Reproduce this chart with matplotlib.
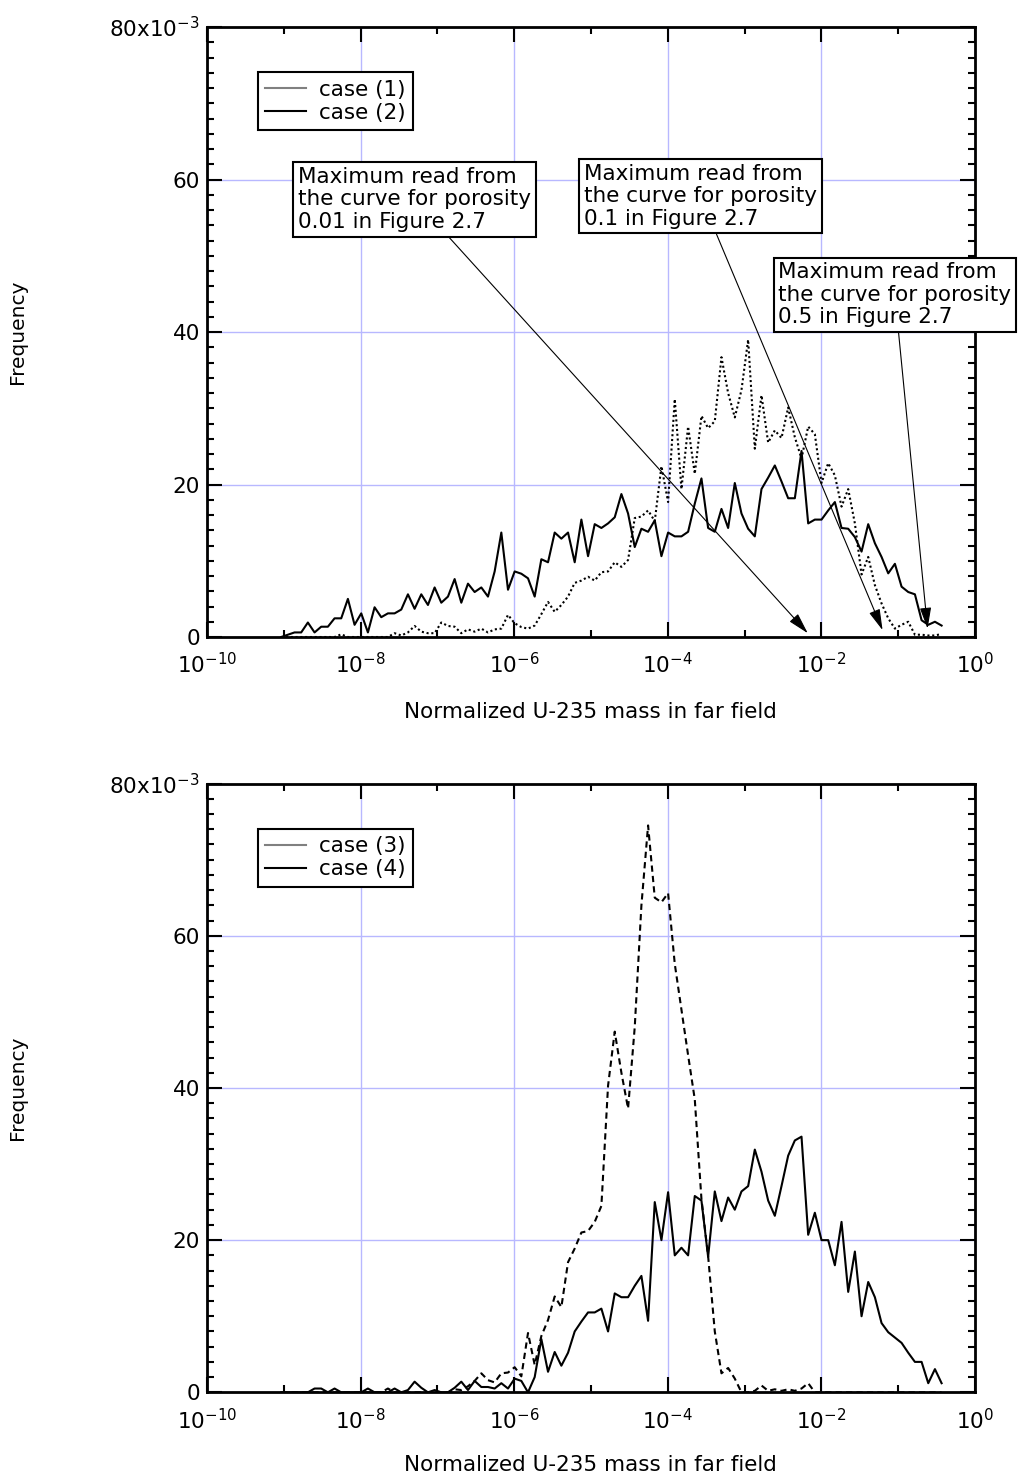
import numpy as np
import matplotlib as mpl
mpl.use('Agg')
import matplotlib.pyplot as plt
from matplotlib.lines import Line2D
from matplotlib.ticker import FixedLocator, NullFormatter

# histogram bins are spaced 0.2 apart in ln(mass), first bin at ln = -20.8
LN_START = -20.8
LN_STEP = 0.2

# frequencies, in units of 1e-3
case1 = [0, 0, 0, 0, 0, 0, 0, 0, 0, 0.35,
         0, 0, 0, 0, 0, 0, 0, 0.5, 0.2, 0.6,
         1.45, 0.7, 0.5, 0.5, 1.9, 1.45, 1.35, 0.5, 1.0, 0.7,
         1.1, 0.6, 1.0, 1.1, 2.9, 1.8, 1.3, 1.1, 1.5, 3.0,
         4.6, 3.3, 4.2, 5.3, 7.1, 7.4, 7.9, 7.4, 8.5, 8.6,
         9.8, 9.2, 10.1, 15.6, 15.8, 16.6, 15.2, 22.4, 17.7, 31.2,
         19.4, 27.6, 21.4, 29.0, 27.4, 28.3, 36.7, 32.0, 28.8, 32.4,
         39.0, 24.7, 31.7, 25.5, 27.1, 26.1, 30.1, 26.2, 23.4, 27.6,
         26.6, 20.2, 22.8, 21.2, 17.1, 19.4, 14.9, 8.2, 10.5, 6.8,
         4.4, 2.45, 1.1, 1.6, 2.0, 0.3, 0.3, 0.2, 0.2, 0.4]

case2 = [0, 0.3, 0.6, 0.6, 1.9, 0.6, 1.35, 1.35, 2.45, 2.45,
         5.0, 1.6, 3.1, 0.6, 3.9, 2.6, 3.1, 3.1, 3.6, 5.6,
         3.7, 5.6, 4.2, 6.5, 4.5, 5.3, 7.6, 4.5, 7.0, 5.9,
         6.5, 5.3, 8.6, 13.7, 6.2, 8.6, 8.3, 7.7, 5.3, 10.2,
         9.8, 13.7, 12.9, 13.7, 9.8, 15.4, 10.6, 14.8, 14.3, 14.9,
         15.7, 18.75, 16.2, 11.8, 14.2, 13.8, 15.3, 10.6, 13.7, 13.2,
         13.2, 13.8, 17.5, 20.8, 14.3, 13.8, 16.8, 14.3, 20.2, 16.2,
         14.2, 13.2, 19.4, 20.9, 22.5, 20.4, 18.2, 18.2, 24.4, 14.9,
         15.4, 15.4, 16.6, 17.7, 14.3, 14.2, 13.1, 11.2, 14.8, 12.3,
         10.5, 8.35, 9.6, 6.6, 5.9, 5.6, 2.2, 1.6, 2.0, 1.5]

case3 = [0, 0, 0, 0, 0, 0, 0, 0, 0, 0,
         0, 0, 0, 0, 0, 0, 0.5, 0, 0, 0,
         0, 0, 0, 0, 0, 0, 0.4, 0.3, 0.8, 1.5,
         2.5, 1.6, 1.3, 2.5, 2.6, 3.3, 2.1, 7.8, 3.6, 7.4,
         9.5, 12.6, 11.2, 17.1, 18.9, 21.0, 21.2, 22.4, 24.5, 40.3,
         47.4, 42.0, 37.3, 48.0, 64.0, 74.5, 65.0, 64.4, 65.6, 56.3,
         50.3, 44.3, 38.5, 25.4, 17.9, 8.0, 2.5, 3.2, 1.8, 0,
         0, 0.2, 0.9, 0.2, 0.4, 0.2, 0.4, 0.2, 0.5, 1.2,
         0, 0, 0, 0, 0, 0, 0, 0, 0, 0,
         0, 0, 0, 0, 0, 0, 0, 0, 0, 0]

case4 = [0, 0, 0, 0, 0, 0.5, 0.5, 0, 0.5, 0,
         0, 0, 0, 0.5, 0, 0, 0, 0.5, 0, 0.3,
         1.4, 0.6, 0, 0.3, 0, 0, 0.6, 1.4, 0.3, 1.5,
         0.7, 0.7, 0.5, 1.2, 0.5, 1.8, 1.5, 0, 2.0, 7.0,
         2.7, 5.3, 3.5, 5.2, 8.0, 9.3, 10.5, 10.5, 11.0, 8.0,
         13.0, 12.5, 12.5, 14.0, 15.3, 9.4, 25.0, 20.0, 26.3, 18.0,
         19.0, 18.0, 25.8, 25.2, 17.8, 26.4, 22.5, 25.6, 24.0, 26.4,
         27.1, 31.9, 29.0, 25.2, 23.2, 27.1, 31.1, 33.1, 33.6, 20.7,
         23.6, 20.0, 20.0, 16.7, 22.4, 13.2, 18.5, 10.0, 14.5, 12.5,
         9.1, 7.9, 7.2, 6.5, 5.2, 4.0, 4.0, 1.2, 3.05, 1.2]

major_exp = [-10, -8, -6, -4, -2, 0]
minor_exp = [-9, -7, -5, -3, -1]
y_major = [0, 20, 40, 60, 80]
y_labels = ['0', '20', '40', '60', r'$\mathregular{80x10^{-3}}$']

note_text = "Maximum read from\nthe curve for porosity\n{} in Figure 2.7"
porosities = ['0.01', '0.1', '0.5']

plt.rcParams['mathtext.default'] = 'regular'
plt.rcParams['font.family'] = 'DejaVu Sans'


def bins(n):
    return np.exp(LN_START + LN_STEP * np.arange(n))


def setup(ax):
    ax.set_xscale('log')
    ax.set_xlim(1e-10, 1)
    ax.set_ylim(0, 80)
    ax.set_xticks([10.0 ** e for e in major_exp],
                  [r'$\mathregular{10^{%d}}$' % e for e in major_exp])
    ax.xaxis.set_minor_locator(FixedLocator([10.0 ** e for e in minor_exp]))
    ax.xaxis.set_minor_formatter(NullFormatter())
    ax.set_yticks(y_major, y_labels)
    ax.yaxis.set_minor_locator(FixedLocator(list(range(0, 81, 2))))
    ax.tick_params(which='both', direction='in', top=True, right=True,
                   width=1.5, color='black')
    ax.tick_params(which='major', length=11, labelsize=15.5)
    ax.tick_params(axis='x', which='major', pad=11)
    ax.tick_params(axis='y', which='major', pad=5)
    ax.tick_params(which='minor', length=5)
    ax.grid(True, which='major', color='#b8b8ff', lw=1)
    ax.set_axisbelow(True)
    for sp in ax.spines.values():
        sp.set_linewidth(2)


def add_legend(ax, labels):
    handles = [Line2D([], [], color='#808080', lw=1.5),
               Line2D([], [], color='black', lw=1.5)]
    leg = ax.legend(handles, labels, loc='upper left',
                    bbox_to_anchor=(0.066, 0.926), fancybox=False,
                    edgecolor='black', framealpha=1, fontsize=15.5,
                    handlelength=1.9, handletextpad=0.6, borderpad=0.35,
                    labelspacing=0.15, borderaxespad=0)
    leg.get_frame().set_linewidth(1.5)


fig = plt.figure(figsize=(10.24, 14.79), dpi=100)
ax1 = fig.add_axes([0.2021, 0.5693, 0.750, 0.4124])
ax2 = fig.add_axes([0.2021, 0.0586, 0.750, 0.4116])

# upper panel: cases 1 and 2
setup(ax1)
ax1.plot(bins(len(case1)), case1, color='black', lw=1.5, ls=(0, (1.0, 1.3)))
ax1.plot(bins(len(case2)), case2, color='black', lw=1.5)
add_legend(ax1, ['case (1)', 'case (2)'])

# text boxes pointing at the maxima
boxes = [(10 ** -7.295, 57.4), (10 ** -3.572, 57.8), (10 ** -1.043, 44.9)]
tips = [(10 ** -2.177, 0.5), (10 ** -1.203, 0.9), (10 ** -0.617, 1.1)]
for p, box, tip in zip(porosities, boxes, tips):
    ax1.annotate(note_text.format(p), xy=tip, xytext=box,
                 ha='center', va='center', multialignment='left',
                 fontsize=15.5, linespacing=1.15, zorder=6,
                 annotation_clip=False,
                 bbox=dict(boxstyle='square,pad=0.22', fc='white',
                           ec='black', lw=1.5),
                 arrowprops=dict(arrowstyle='-|>,head_length=1.3,head_width=0.35',
                                 mutation_scale=10, color='black', lw=0.8,
                                 shrinkA=0, shrinkB=0))

# lower panel: cases 3 and 4
setup(ax2)
ax2.plot(bins(len(case3)), case3, color='black', lw=1.5, ls=(0, (3, 2)))
ax2.plot(bins(len(case4)), case4, color='black', lw=1.5)
add_legend(ax2, ['case (3)', 'case (4)'])

for yc in [0.7755, 0.2644]:
    fig.text(18 / 1024, yc, 'Frequency', rotation=90, ha='center',
             va='center', fontsize=14.5)
for yc in [0.5186, 0.0095]:
    fig.text(590 / 1024, yc, 'Normalized U-235 mass in far field',
             ha='center', va='center', fontsize=15.5)

fig.savefig('out.png', dpi=100)
